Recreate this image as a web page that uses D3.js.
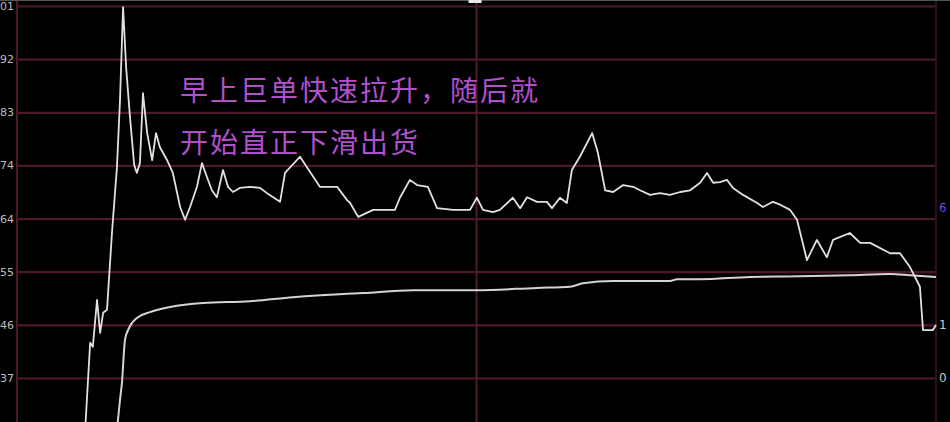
<!DOCTYPE html>
<html><head><meta charset="utf-8">
<script src="https://cdn.jsdelivr.net/npm/d3@7"></script>
<style>
html,body{margin:0;padding:0;background:#000;overflow:hidden}
svg{display:block}
</style></head>
<body>
<svg id="c" width="950" height="422"></svg>
<script>
// ---- data (minutes since open, price level in label units) ----
const priceTime = [17.8,19.1,19.8,20.9,21.7,22.5,23.5,24.8,26.1,26.9,27.7,28.5,29.5,30.6,31.3,32.1,32.9,34.0,35.3,36.3,37.3,39.2,40.7,42.6,43.9,45.2,47.0,48.3,49.6,50.9,52.2,53.8,55.1,56.4,58.2,60.9,63.5,65.3,68.7,70.0,73.9,76.5,79.1,83.6,86.2,87.0,89.1,93.0,96.6,98.7,100.0,102.6,104.5,107.3,109.7,113.9,118.3,120.1,121.7,124.3,126.1,129.5,131.4,133.2,135.8,138.4,139.7,141.8,143.6,144.9,147.0,150.2,151.7,153.6,155.7,158.3,160.9,162.7,165.3,167.9,170.5,173.2,175.8,178.4,180.2,181.8,183.6,185.4,187.0,189.6,193.3,194.8,197.4,199.3,201.9,203.7,206.3,208.9,211.5,213.1,217.5,220.2,222.8,228.0,230.6,233.2,235.8,236.6,239.2,240];
const priceValue = [28.0,43.1,42.4,50.5,44.8,48.3,48.8,62.1,73.5,85.1,101.2,90.8,82.2,73.9,72.5,74.2,86.3,79.4,74.7,79.4,77.0,74.7,72.5,66.6,64.4,66.6,70.1,74.2,71.8,69.5,68.3,73.0,70.1,69.2,69.9,70.1,69.9,69.0,67.5,72.5,75.3,72.7,70.1,70.1,67.8,67.3,64.9,66.1,66.1,66.1,68.2,71.3,70.4,70.1,66.4,66.1,66.1,68.2,66.1,65.7,66.1,68.2,66.4,68.3,67.5,67.5,66.4,68.2,67.3,73.0,75.3,79.4,76.0,69.5,69.2,70.4,70.1,69.5,68.7,69.0,68.7,69.2,69.5,70.8,72.5,70.8,70.9,71.3,69.9,68.7,67.3,66.6,67.5,67.0,66.1,64.4,57.4,60.9,57.9,60.9,62.1,60.4,60.4,58.6,58.6,56.2,52.8,45.3,45.3,46.2];

const avgTime = [26.1,26.9,27.4,28.2,29.0,30.0,31.3,34.7,40.0,48.6,60.9,72.1,90.4,103.4,120.1,135.8,144.4,147.8,155.7,170.5,172.4,178.4,191.4,204.5,217.5,228.0,233.2,240];
const avgValue = [28.0,33.2,36.1,43.6,45.3,46.5,47.4,48.4,49.3,50.0,50.3,51.0,51.7,52.2,52.2,52.6,52.8,53.4,53.8,53.8,54.1,54.1,54.5,54.6,54.8,55.0,54.8,54.5];

const gridValues = [37,46.2,55.4,64.6,73.8,83,92.2,101.4];
const gridLabels = ["37","46","55","64","74","83","92","01"];
const rightValues = [66.4,46.2,37];
const rightLabels = ["6","1","0"];
const noteLines = ["早上巨单快速拉升，随后就","开始直正下滑出货"];

// ---- drawing ----
const svg = d3.select("#c");
svg.append("rect").attr("width",950).attr("height",422).attr("fill","#000");

const x = d3.scaleLinear().domain([0,240]).range([17,936]);
const y = d3.scaleLinear().domain([37,101.4]).range([378,6]);
const gridColor = "#4e1a2a";

// horizontal grid + left labels
const yAxis = d3.axisLeft(y).tickValues(gridValues)
  .tickFormat((d,i)=>gridLabels[i]).tickSizeInner(-(x(240)-x(0))).tickSizeOuter(0).tickPadding(3);
const gy = svg.append("g").attr("transform",`translate(${x(0)},0)`).call(yAxis);
gy.select(".domain").attr("stroke",gridColor).attr("stroke-width",2).attr("d",`M0,0V422`);
gy.selectAll(".tick line").attr("stroke",gridColor).attr("stroke-width",2.2);
gy.selectAll(".tick text").attr("fill","#bdbdbd").attr("font-family","DejaVu Sans, sans-serif").attr("font-size",11);

// vertical lines: middle and right border
svg.append("line").attr("x1",x(120)).attr("x2",x(120)).attr("y1",0).attr("y2",422)
  .attr("stroke",gridColor).attr("stroke-width",2);
svg.append("line").attr("x1",x(240)).attr("x2",x(240)).attr("y1",0).attr("y2",422)
  .attr("stroke","#2a1418").attr("stroke-width",2);
// top edge & marker
svg.append("line").attr("x1",0).attr("x2",950).attr("y1",0.5).attr("y2",0.5).attr("stroke","#555").attr("stroke-width",1);
svg.append("rect").attr("x",x(120)-8).attr("y",0).attr("width",13).attr("height",3).attr("fill","#e8e8e8");

// right labels
svg.append("g").selectAll("text").data(rightValues).join("text")
  .attr("x",939).attr("y",d=>y(d)).attr("dy","0.35em")
  .attr("fill",(d,i)=>i===0?"#6a4bd8":"#c8c8c8")
  .attr("font-family","DejaVu Sans, sans-serif").attr("font-size",12)
  .text((d,i)=>rightLabels[i]);

// lines
const clip = svg.append("defs").append("clipPath").attr("id","pc");
clip.append("rect").attr("x",x(0)).attr("y",0).attr("width",x(240)-x(0)+2).attr("height",422);

const line = d3.line().x(d=>x(d[0])).y(d=>y(d[1]));
const avgData = avgTime.map((t,i)=>[t,avgValue[i]]);
const priceData = priceTime.map((t,i)=>[t,priceValue[i]]);

svg.append("path").datum(avgData).attr("clip-path","url(#pc)")
  .attr("d",d3.line().x(d=>x(d[0])).y(d=>y(d[1])).curve(d3.curveMonotoneX))
  .attr("fill","none").attr("stroke","#d6d2d2").attr("stroke-width",2);
svg.append("path").datum(priceData).attr("clip-path","url(#pc)")
  .attr("d",line).attr("fill","none").attr("stroke","#e2e0e0").attr("stroke-width",1.8)
  .attr("stroke-linejoin","round");

// annotation
svg.append("g").selectAll("text").data(noteLines).join("text")
  .attr("x",180).attr("y",(d,i)=>101+i*52)
  .attr("fill","#b050cc")
  .attr("font-family","Noto Sans CJK SC, sans-serif").attr("font-size",28)
  .attr("letter-spacing",2)
  .text(d=>d);
</script>
</body></html>
